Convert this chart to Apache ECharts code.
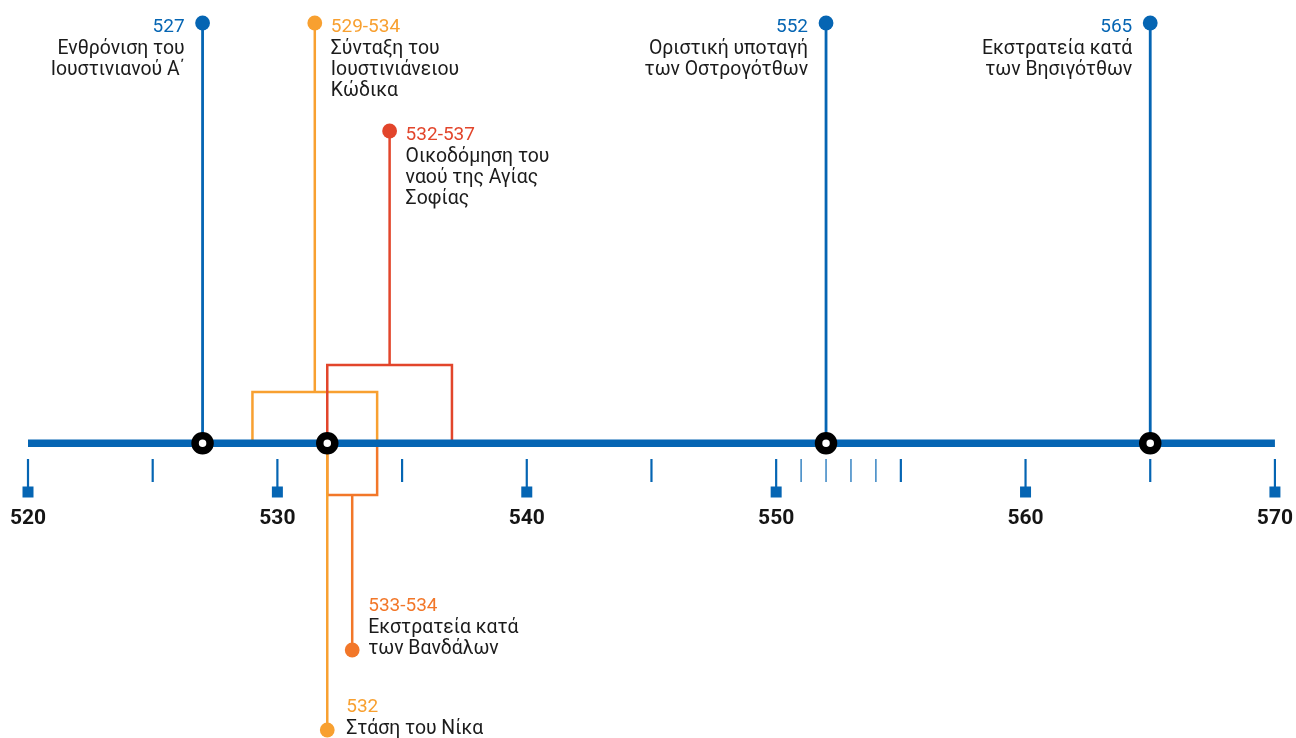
<!DOCTYPE html>
<html><head><meta charset="utf-8">
<script src="https://cdn.jsdelivr.net/npm/echarts@6/dist/echarts.min.js"></script>
<style>html,body{margin:0;padding:0;background:#fff}#c{width:1296px;height:738px}</style>
</head><body><div id="c"></div>
<script>
// ---- axis data ----
const axisMin = 520, axisMax = 570;
const labelledTicks = [520, 530, 540, 550, 560, 570];
const midTicks = [525, 535, 545, 555, 565];
const minorTicks = [551, 552, 553, 554];

// ---- event data ----
const eventDates = ['527', '529-534', '532-537', '552', '565', '533-534', '532'];
const eventTexts = [
  ['Ενθρόνιση του', 'Ιουστινιανού Α΄'],
  ['Σύνταξη του', 'Ιουστινιάνειου', 'Κώδικα'],
  ['Οικοδόμηση του', 'ναού της Αγίας', 'Σοφίας'],
  ['Οριστική υποταγή', 'των Οστρογότθων'],
  ['Εκστρατεία κατά', 'των Βησιγότθων'],
  ['Εκστρατεία κατά', 'των Βανδάλων'],
  ['Στάση του Νίκα']
];
const eventStart = [527, 529, 532, 552, 565, 532, 532];
const eventEnd   = [527, 534, 537, 552, 565, 534, 532];
const markedYears = [527, 532, 552, 565];

// ---- layout / style (not data) ----
const BLUE = '#0565b3', YELLOW = '#f8a030', RED = '#e2452b', ORANGE = '#f27729';
const AXIS_Y = 443.3, TICK_TOP = 459, TICK_BOT = 482, SQUARE_Y = 492;
const eventLayout = [
  {color: BLUE,   dotY: 23,  side: 'up',   align: 'right', dx: 18, lw: 2.8},
  {color: YELLOW, dotY: 23,  barY: 392, side: 'up', align: 'left', dx: 16, lw: 2.5},
  {color: RED,    dotY: 131, barY: 365, side: 'up', align: 'left', dx: 16, lw: 2.5},
  {color: BLUE,   dotY: 23,  side: 'up',   align: 'right', dx: 18, lw: 2.8},
  {color: BLUE,   dotY: 23,  side: 'up',   align: 'right', dx: 18, lw: 2.8},
  {color: ORANGE, dotY: 650, barY: 495, side: 'down', align: 'left', dx: 16, lw: 2.5},
  {color: YELLOW, dotY: 730, side: 'down', align: 'left', dx: 19, lw: 2.5}
];
const FONT = 'Roboto, "Noto Sans", sans-serif';

const chart = echarts.init(document.getElementById('c'), null, {renderer: 'canvas'});

function renderEvent(params, api) {
  const i = api.value(2);
  const L = eventLayout[i];
  const s = eventStart[i], e = eventEnd[i];
  const mid = (s + e) / 2;
  const c = L.color;
  const ls = {stroke: c, lineWidth: L.lw, fill: null};
  const P = (x, y) => api.coord([x, y]);
  const children = [];
  const [xm, yd] = P(mid, L.dotY);
  const ya = P(mid, AXIS_Y)[1];
  if (s !== e) {
    const [x1, yb] = P(s, L.barY);
    const x2 = P(e, L.barY)[0];
    children.push({type: 'polyline', shape: {points: [[x1, ya], [x1, yb], [x2, yb], [x2, ya]]}, style: ls});
    children.push({type: 'line', shape: {x1: xm, y1: yb, x2: xm, y2: yd}, style: ls});
  } else {
    children.push({type: 'line', shape: {x1: xm, y1: ya, x2: xm, y2: yd}, style: ls});
  }
  children.push({type: 'circle', shape: {cx: xm, cy: yd, r: 7.4}, style: {fill: c}});
  const lines = ['{y|' + eventDates[i] + '}'].concat(eventTexts[i].map(t => '{t|' + t + '}'));
  const tx = L.align === 'left' ? xm + L.dx : xm - L.dx;
  const up = L.side === 'up';
  children.push({
    type: 'text',
    x: tx,
    y: up ? yd - 6.5 : yd + 9.5,
    style: {
      text: lines.join('\n'),
      align: L.align,
      verticalAlign: up ? 'top' : 'bottom',
      rich: {
        y: {fontSize: 19, fontFamily: FONT, fill: c, lineHeight: 22, align: L.align},
        t: {fontSize: 19.4, fontFamily: FONT, fill: '#1b1b1b', lineHeight: 21, align: L.align}
      }
    }
  });
  return {type: 'group', children};
}

function renderTick(params, api) {
  const yr = api.value(0), kind = api.value(1);
  const x = api.coord([yr, TICK_TOP])[0];
  const y1 = api.coord([yr, TICK_TOP])[1];
  const y2 = api.coord([yr, kind === 2 ? SQUARE_Y : TICK_BOT])[1];
  const children = [{type: 'line', shape: {x1: x, y1: y1, x2: x, y2: y2},
    style: {stroke: BLUE, lineWidth: kind === 0 ? 1.2 : 2.2}}];
  if (kind === 2) {
    const ys = api.coord([yr, SQUARE_Y])[1];
    children.push({type: 'rect', shape: {x: x - 5.5, y: ys - 5.5, width: 11, height: 11}, style: {fill: BLUE}});
  }
  return {type: 'group', children};
}

const tickData = labelledTicks.map(t => [t, 2])
  .concat(midTicks.map(t => [t, 1]))
  .concat(minorTicks.map(t => [t, 0]));

chart.setOption({
  animation: false,
  backgroundColor: '#fff',
  grid: {left: 28, right: 19, top: 0, bottom: 0},
  xAxis: {
    type: 'value', min: axisMin, max: axisMax, interval: 10,
    position: 'bottom', offset: -(738 - TICK_TOP),
    axisLine: {show: false}, axisTick: {show: false}, splitLine: {show: false},
    axisLabel: {
      margin: 49, fontSize: 21, fontWeight: 'bold', color: '#151515', fontFamily: FONT,
      showMinLabel: true, showMaxLabel: true,
      formatter: v => labelledTicks.indexOf(v) >= 0 ? String(v) : ''
    }
  },
  yAxis: {type: 'value', min: 0, max: 738, inverse: true, show: false},
  series: [
    {type: 'custom', z: 2, renderItem: renderEvent, clip: false,
     data: eventStart.map((s, i) => [s, eventLayout[i].dotY, i]), silent: true},
    {type: 'line', z: 3, symbol: 'none', silent: true,
     lineStyle: {color: BLUE, width: 7.5, cap: 'butt'},
     data: [[axisMin, AXIS_Y], [axisMax, AXIS_Y]]},
    {type: 'custom', z: 3, renderItem: renderTick, data: tickData, silent: true, clip: false},
    {type: 'scatter', z: 5, symbol: 'circle', symbolSize: 15, silent: true,
     itemStyle: {color: '#fff', borderColor: '#000', borderWidth: 7.5, opacity: 1},
     data: markedYears.map(y => [y, AXIS_Y])}
  ]
});
</script></body></html>
